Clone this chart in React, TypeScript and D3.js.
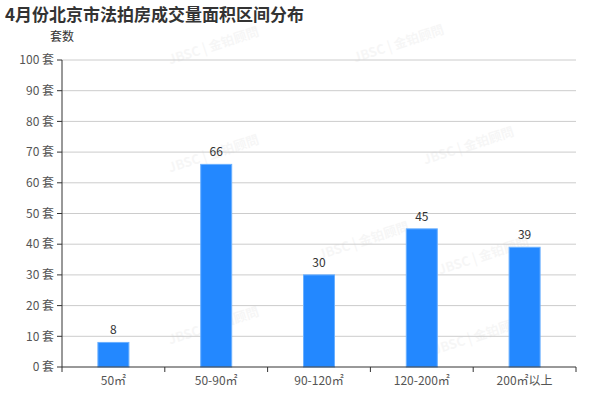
import React from "react";
import * as d3 from "d3";

const categories = ["50㎡", "50-90㎡", "90-120㎡", "120-200㎡", "200㎡以上"];
const values = [8, 66, 30, 45, 39];
const yTicks = [0, 10, 20, 30, 40, 50, 60, 70, 80, 90, 100];
const watermarks = [
  [215, 50], [400, 48], [215, 158], [470, 150], [365, 245], [215, 330], [480, 340], [485, 260],
];

export default function App() {
  const W = 600, H = 400;
  const left = 62, right = 576, top = 60, bottom = 367;
  const x = d3.scaleBand<string>().domain(categories).range([left, right]).paddingInner(0).paddingOuter(0);
  const y = d3.scaleLinear().domain([0, 100]).range([bottom, top]);
  const bw = 31;
  const font = "'Microsoft YaHei', 'Noto Sans CJK SC', sans-serif";
  const boundaries = categories.map((c) => x(c)!).concat([right]);
  return (
    <svg width={W} height={H} style={{ position: "absolute", left: 0, top: 0, background: "#fff" }} fontFamily={font}>
      {watermarks.map(([wx, wy], i) => (
        <text key={"w" + i} x={wx} y={wy} transform={`rotate(-18 ${wx} ${wy})`} fontSize={13} fontWeight="bold" fill="#000" opacity={0.03} textAnchor="middle">
          JBSC | 金铂顾問
        </text>
      ))}
      <text x={5} y={21} fontSize={17} fontWeight="bold" fill="#333">4月份北京市法拍房成交量面积区间分布</text>
      <text x={62} y={41} fontSize={12} fill="#333" textAnchor="middle">套数</text>
      {yTicks.map((t) => (
        <g key={t}>
          {t > 0 && <line x1={left} x2={right} y1={y(t)} y2={y(t)} stroke="#ccc" strokeWidth={1} />}
          <line x1={left - 5} x2={left} y1={y(t)} y2={y(t)} stroke="#333" />
          <text x={left - 8} y={y(t)} dy="0.35em" fontSize={12} fill="#555" textAnchor="end">{t} 套</text>
        </g>
      ))}
      {categories.map((c, i) => {
        const cx = x(c)! + x.bandwidth() / 2;
        return (
          <g key={c}>
            <rect x={cx - bw / 2} y={y(values[i])} width={bw} height={bottom - y(values[i])} fill="#2388ff" stroke="#6ab0ff" strokeWidth={1} />
            <text x={cx} y={y(values[i]) - 8} fontSize={12} fill="#333" textAnchor="middle">{values[i]}</text>
            <text x={cx} y={bottom + 18} fontSize={12} fill="#555" textAnchor="middle">{c}</text>
          </g>
        );
      })}
      <line x1={left} x2={left} y1={top} y2={bottom} stroke="#333" />
      <line x1={left} x2={right} y1={bottom} y2={bottom} stroke="#333" />
      {boundaries.map((b, i) => (
        <line key={"b" + i} x1={b} x2={b} y1={bottom} y2={bottom + 5} stroke="#333" />
      ))}
    </svg>
  );
}
